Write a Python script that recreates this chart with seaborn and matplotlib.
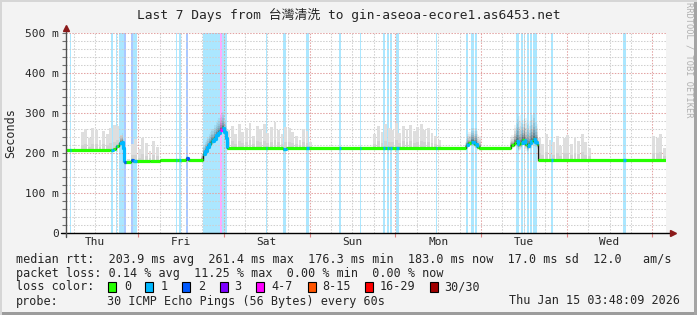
import numpy as np
import matplotlib
matplotlib.use("Agg")
import matplotlib.pyplot as plt
import seaborn as sns
from matplotlib.patches import Rectangle

# ---------------- data ----------------
start_hour_of_day = 3.8          # graph starts Thu 03:48
span_hours = 168
day_names = ["Thu", "Fri", "Sat", "Sun", "Mon", "Tue", "Wed"]

# median rtt (ms), step series: value holds from hour[i] to hour[i+1]
median_hours = [0.0, 12.3, 13.2, 14.0, 14.9, 15.7, 16.0, 16.3, 18.2, 18.8, 23.5, 26.3,
                33.6, 34.2, 38.3, 38.9, 39.5, 40.1, 40.7, 41.3, 41.9, 42.5, 43.1, 43.7,
                44.3, 44.7, 45.1, 60.8, 61.6, 112.0, 112.6, 113.4, 114.3, 115.1, 115.7,
                124.7, 125.3, 126.0, 126.6, 127.2, 127.8, 128.4, 129.0, 129.6, 130.2,
                130.8, 131.4, 131.9, 132.2]
median_ms = [207, 208, 211, 218, 224, 227, 212, 178, 182, 179, 181, 183,
             187, 183, 198, 206, 214, 222, 230, 236, 244, 250, 257, 262,
             252, 238, 213, 211, 213, 219, 224, 227, 223, 216, 213,
             219, 226, 230, 222, 224, 233, 222, 218, 224, 230,
             235, 228, 222, 182.5]

# loss periods: start hour, end hour, loss class index
loss_start = [1.1, 12.6, 14.0, 14.9, 16.3, 18.2, 18.8, 30.8, 31.7, 33.6, 38.4, 40.7,
              43.1, 43.7, 56.0, 60.8, 67.2, 76.4, 82.3, 88.8, 89.9, 90.7, 92.4, 103.6,
              112.0, 113.4, 114.5, 126.0, 127.4, 128.1, 129.1, 129.9, 130.8, 135.8, 156.0]
loss_end = [1.5, 13.2, 14.4, 16.3, 16.8, 18.8, 19.9, 31.2, 32.1, 34.2, 40.5, 43.1,
            43.7, 45.1, 56.4, 61.6, 68.1, 77.0, 82.7, 89.2, 90.5, 91.4, 93.2, 104.0,
            112.6, 114.3, 115.1, 126.8, 128.0, 128.5, 129.7, 130.5, 131.9, 136.4, 156.8]
loss_level = [1, 1, 1, 1, 2, 2, 1, 1, 1, 2, 1, 1,
              4, 1, 1, 1, 1, 1, 1, 1, 1, 1, 1, 1,
              1, 1, 1, 1, 1, 1, 1, 1, 1, 1, 1]

# light smoke spikes above the median, one value per hour (ms)
smoke_spike_ms = (
    [0, 0, 0, 0]
    + [45, 52, 30, 55, 50, 25, 48, 40, 55, 58, 50]
    + [20]
    + [12, 6]
    + [40, 55, 30, 58, 45, 25, 50, 35]
    + [0] * 12
    + [0] * 7
    + [45, 55, 35, 60, 40, 50, 62, 30, 55, 48, 60, 38, 52, 64, 45, 35, 55, 50, 40, 30, 20]
    + [48, 42, 15]
    + [0] * 17
    + [35, 55, 40, 60, 50, 45, 62, 38, 55, 48, 58, 42, 52, 60, 45, 50, 38, 30, 20]
    + [0] * 7
    + [0] * 5
    + [0] * 7
    + [0]
    + [0] * 7
    + [55, 40, 65, 50, 45, 60, 35, 55, 62, 40, 58, 48, 65, 45, 30]
    + [0] * 17
    + [60, 55, 65, 30]
)

# dense (dark) smoke around the median during the latency bumps
core_hours = [0.0, 15.0, 16.3, 37.8, 38.3, 39.3, 40.3, 41.3, 42.3, 43.3, 44.3, 45.3,
              111.8, 112.3, 113.3, 114.3, 115.3, 116.3, 124.3, 125.3, 126.3, 127.3,
              128.3, 129.3, 130.3, 131.3, 132.2]
core_ms = [0, 22, 0, 15, 22, 26, 30, 34, 38, 40, 30, 0,
           15, 28, 36, 40, 30, 0, 25, 45, 70, 50,
           65, 55, 65, 50, 0]

loss_labels = ["0", "1", "2", "3", "4-7", "8-15", "16-29", "30/30"]
loss_colors = ["#26ff00", "#00b8ff", "#0059ff", "#7e00ff",
               "#ff00ff", "#ff5500", "#ff0000", "#a00000"]

y_ticks_ms = [0, 100, 200, 300, 400, 500]
y_tick_labels = ["0", "100 m", "200 m", "300 m", "400 m", "500 m"]

title = "Last 7 Days from 台灣清洗 to gin-aseoa-ecore1.as6453.net"
line_rtt = ("median rtt:  203.9 ms avg  261.4 ms max  176.3 ms min  "
            "183.0 ms now  17.0 ms sd  12.0   am/s")
line_loss = "packet loss: 0.14 % avg  11.25 % max  0.00 % min  0.00 % now"
probe_label = "probe:"
probe_text = "30 ICMP Echo Pings (56 Bytes) every 60s"
stamp = "Thu Jan 15 03:48:09 2026"

# ---------------- style ----------------
sns.set_theme(style="white")
plt.rcParams["font.family"] = ["DejaVu Sans Mono", "Noto Sans CJK SC"]
plt.rcParams["axes.unicode_minus"] = False

W, H = 697, 315
fig = plt.figure(figsize=(W / 100, H / 100), dpi=100, facecolor="#f3f3f3")
ax = fig.add_axes([66 / W, 82 / H, 600 / W, 200 / H])
ax.set_facecolor("white")
ax.set_xlim(0, span_hours)
ax.set_ylim(0, 500)
for s in ax.spines.values():
    s.set_visible(False)

mh = np.array(median_hours)
mv = np.array(median_ms, dtype=float)


def med_at(t):
    idx = np.clip(np.searchsorted(mh, t, side="right") - 1, 0, len(mh) - 1)
    return mv[idx]


ch = np.array(core_hours)
cv = np.array(core_ms, dtype=float)


def core_at(t):
    idx = np.clip(np.searchsorted(ch, t, side="right") - 1, 0, len(ch) - 1)
    return cv[idx]


# loss backgrounds
for s, e, l in zip(loss_start, loss_end, loss_level):
    ax.axvspan(s, e, color=loss_colors[l], alpha=0.33, lw=0, zorder=1)

# grid
dots = (0, (1.4, 1.4))
first_mid = 24 - start_hour_of_day
midnights = np.arange(first_mid, span_hours, 24)
six_h = np.arange(first_mid % 6, span_hours, 6)
for t in six_h:
    is_major = np.any(np.abs(midnights - t) < 1e-6)
    ax.axvline(t, color="#e3a3a3" if is_major else "#cfcfcf", lw=0.75,
               ls=dots, zorder=2)
for v in np.arange(20, 501, 20):
    ax.axhline(v, color="#e3a3a3" if v % 100 == 0 else "#cfcfcf", lw=0.75,
               ls=dots, zorder=2)

# light smoke spikes
hrs = np.arange(span_hours) + 0.5
spk = np.array(smoke_spike_ms, dtype=float)
ax.bar(hrs, spk, bottom=med_at(hrs), width=0.8, color="#dedede", lw=0, zorder=3)
ax.bar(hrs, spk * 0.3, bottom=med_at(hrs), width=0.8, color="#d2d2d2", lw=0, zorder=3)

# dark smoke gradient around median in bumps
tf = np.arange(0, span_hours, 0.05)
mf = med_at(tf)
cf = core_at(tf)
for f, a in zip([1.0, 0.8, 0.62, 0.47, 0.34, 0.22, 0.12],
                [0.05, 0.05, 0.06, 0.07, 0.09, 0.12, 0.16]):
    ax.fill_between(tf, mf - cf * f * 0.25, mf + cf * f, where=cf > 0,
                    color="black", alpha=a, lw=0, zorder=3, step="post")

# median line: dark step line + coloured horizontal segments
sns.lineplot(x=list(mh) + [span_hours], y=list(mv) + [mv[-1]],
             drawstyle="steps-post", color="#1a1a1a", lw=1.0, ax=ax,
             zorder=4, legend=False)
ends = list(mh[1:]) + [span_hours]
ax.hlines(mv, mh, ends, color=loss_colors[0], lw=2.3, zorder=5)
for s, e, l in zip(loss_start, loss_end, loss_level):
    tb = np.linspace(s, e, 12)
    ax.plot(tb, med_at(tb), drawstyle="steps-post", color=loss_colors[l],
            lw=2.3, zorder=6, solid_capstyle="butt")

# ticks
ax.set_yticks(y_ticks_ms, y_tick_labels)
ax.set_yticks(np.arange(0, 501, 20), minor=True)
ax.tick_params(axis="y", which="both", left=True, length=3, width=0.8,
               color="#707070", labelsize=8, pad=2, direction="out")
ax.set_xticks(midnights, [""] * len(midnights))
ax.set_xticks(midnights - 12, day_names, minor=True)
ax.tick_params(axis="x", which="major", bottom=True, length=3, width=0.8,
               color="#e08080", direction="out")
ax.tick_params(axis="x", which="minor", bottom=True, length=0, labelsize=8, pad=3)
ax.set_xlabel("")
ax.set_ylabel("")

# axis lines and arrows
ax.plot([-0.008, 1.008], [0, 0], transform=ax.transAxes, color="black", lw=1.0,
        clip_on=False, zorder=8)
ax.plot([0, 0], [-0.02, 1.02], transform=ax.transAxes, color="#505050", lw=1.0,
        clip_on=False, zorder=8)
ax.plot([1.011], [0], transform=ax.transAxes, marker=">", ms=4.5, color="#8b1a1a",
        clip_on=False, zorder=9)
ax.plot([0], [1.025], transform=ax.transAxes, marker="^", ms=4.5, color="#8b1a1a",
        clip_on=False, zorder=9)

# texts
def px(x, y):
    return x / W, 1 - y / H

fig.text(*px(348.5, 15), title, ha="center", va="center", fontsize=9.3)
fig.text(*px(11, 133), "Seconds", rotation=90, ha="center", va="center", fontsize=8.5)
fig.text(*px(689, 60), "RRDTOOL / TOBI OETIKER", rotation=270, ha="center",
         va="center", fontsize=6.2, color="#b0b0b0")

fs = 8.5
fig.text(*px(16, 259), line_rtt, ha="left", va="center", fontsize=fs)
fig.text(*px(16, 273), line_loss, ha="left", va="center", fontsize=fs)
fig.text(*px(16, 287), "loss color:", ha="left", va="center", fontsize=fs)
box_x = [108, 145, 182, 220, 256, 308, 365, 430]
lab_x = [124, 161, 198, 234, 271, 322, 380, 444]
for bx, lx, lab, col in zip(box_x, lab_x, loss_labels, loss_colors):
    fig.add_artist(Rectangle(px(bx, 292), 8 / W, 10 / H, transform=fig.transFigure,
                             facecolor=col, edgecolor="black", lw=0.8))
    fig.text(*px(lx, 287), lab, ha="left", va="center", fontsize=fs)
fig.text(*px(16, 301), probe_label, ha="left", va="center", fontsize=fs)
fig.text(*px(107, 301), probe_text, ha="left", va="center", fontsize=fs)
fig.text(*px(680, 301), stamp, ha="right", va="center", fontsize=fs)

# frame shading
fig.add_artist(Rectangle((0, 0), 1, 3 / H, transform=fig.transFigure,
                         color="#9c9c9c", lw=0))
fig.add_artist(Rectangle((1 - 3 / W, 0), 3 / W, 1, transform=fig.transFigure,
                         color="#a4a4a4", lw=0))
fig.add_artist(Rectangle((0, 0), 2 / W, 1, transform=fig.transFigure,
                         color="#d6d6d6", lw=0))
fig.add_artist(Rectangle((0, 1 - 2 / H), 1, 2 / H, transform=fig.transFigure,
                         color="#d6d6d6", lw=0))

fig.savefig("out.png", dpi=100, facecolor=fig.get_facecolor())
